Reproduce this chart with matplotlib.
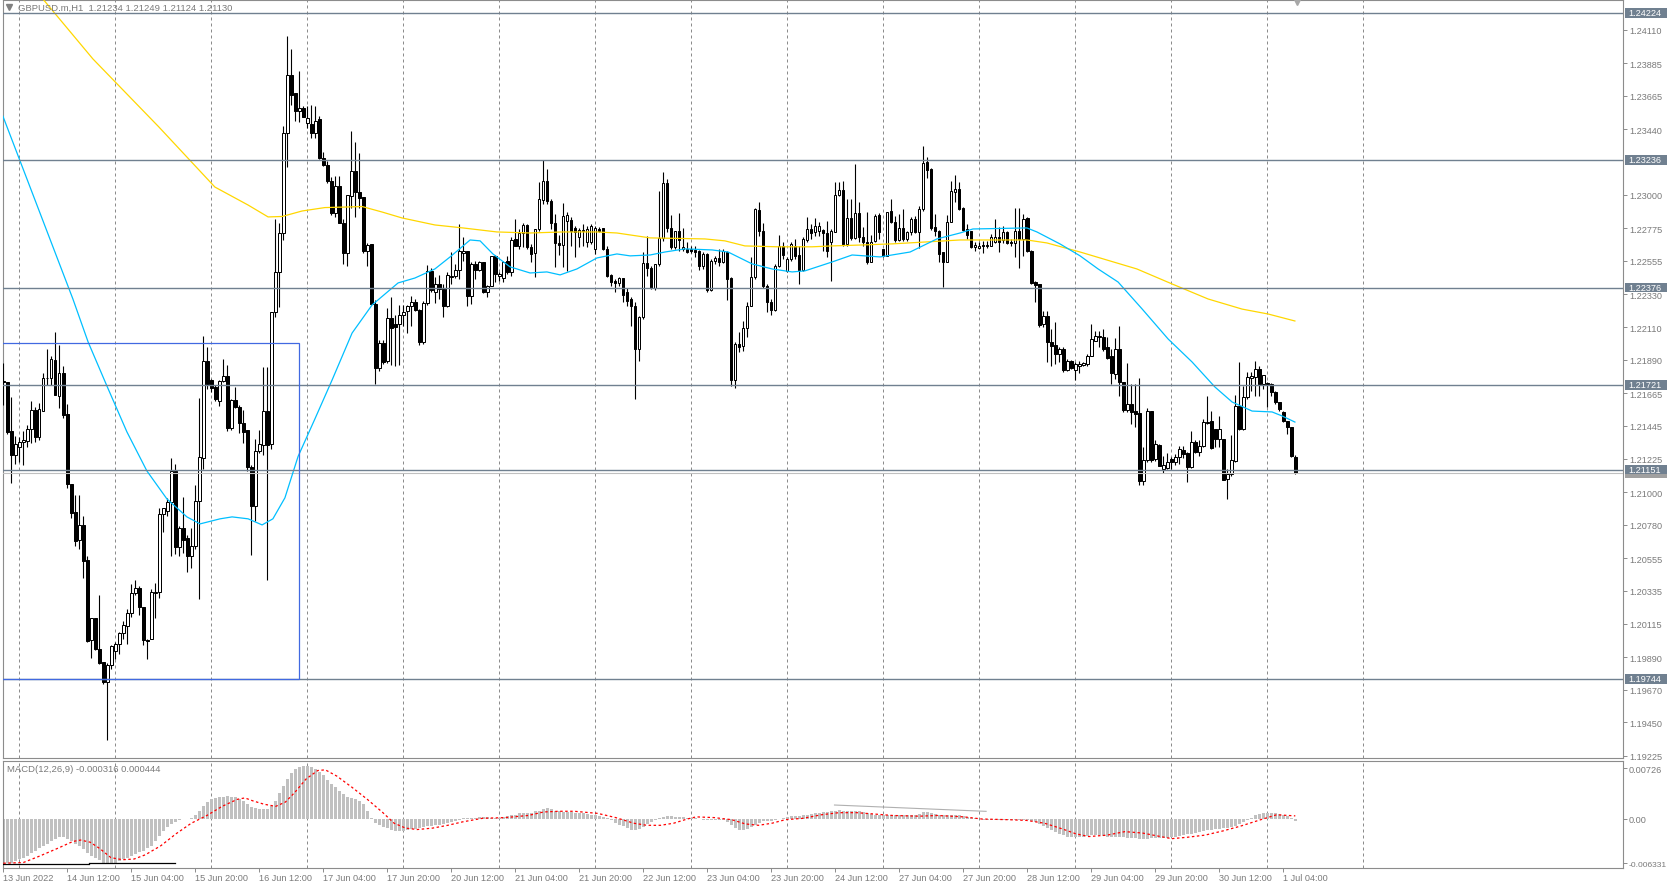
import numpy as np
import matplotlib
matplotlib.use("Agg")
import matplotlib.pyplot as plt
from matplotlib.patches import Rectangle
from matplotlib.lines import Line2D
from matplotlib.transforms import blended_transform_factory

# --- GBPUSD H1 candles (bar 0 = 13 Jun 20:00) ---
opens = [
    1.21750, 1.21738, 1.21408, 1.21251, 1.21305, 1.21335, 1.21346, 1.21422, 1.21552, 1.21368,
    1.21548, 1.21765, 1.21765, 1.21889, 1.21649, 1.21801, 1.21523, 1.21052, 1.20864, 1.20675,
    1.20776, 1.20540, 1.20006, 1.20152, 1.19944, 1.19854, 1.19719, 1.19838, 1.19930, 1.19975,
    1.20051, 1.20101, 1.20186, 1.20318, 1.20352, 1.20224, 1.20006, 1.20011, 1.20320, 1.20325,
    1.20850, 1.20875, 1.20935, 1.21141, 1.20630, 1.20760, 1.20688, 1.20567, 1.20640, 1.20940,
    1.21232, 1.21880, 1.21756, 1.21707, 1.21612, 1.21744, 1.21780, 1.21432, 1.21617, 1.21569,
    1.21463, 1.21420, 1.21167, 1.20903, 1.21275, 1.21319, 1.21545, 1.21323, 1.22213, 1.22482,
    1.22741, 1.23419, 1.23806, 1.23683, 1.23563, 1.23582, 1.23486, 1.23479, 1.23414, 1.23510,
    1.23246, 1.23198, 1.23090, 1.22878, 1.23060, 1.22813, 1.22609, 1.22989, 1.23157, 1.23022,
    1.22985, 1.22621, 1.22669, 1.22268, 1.21833, 1.22001, 1.21881, 1.22169, 1.22128, 1.22128,
    1.22188, 1.22217, 1.22249, 1.22280, 1.22225, 1.22008, 1.22273, 1.22490, 1.22348, 1.22400,
    1.22366, 1.22254, 1.22450, 1.22455, 1.22494, 1.22610, 1.22620, 1.22322, 1.22535, 1.22497,
    1.22546, 1.22344, 1.22389, 1.22586, 1.22452, 1.22438, 1.22557, 1.22479, 1.22703, 1.22658,
    1.22741, 1.22797, 1.22647, 1.22606, 1.22770, 1.22967, 1.23095, 1.22961, 1.22808, 1.22674,
    1.22662, 1.22826, 1.22831, 1.22774, 1.22714, 1.22759, 1.22681, 1.22681, 1.22636, 1.22770,
    1.22774, 1.22636, 1.22460, 1.22422, 1.22407, 1.22438, 1.22344, 1.22299, 1.22254, 1.21963,
    1.22176, 1.22541, 1.22505, 1.22370, 1.22535, 1.22707, 1.23077, 1.22775, 1.22647, 1.22754,
    1.22636, 1.22636, 1.22636, 1.22631, 1.22624, 1.22519, 1.22602, 1.22362, 1.22553, 1.22573,
    1.22551, 1.22618, 1.22438, 1.21756, 1.21996, 1.21985, 1.22102, 1.22254, 1.22445, 1.22900,
    1.22759, 1.22389, 1.22281, 1.22227, 1.22519, 1.22653, 1.22490, 1.22568, 1.22658, 1.22595,
    1.22497, 1.22699, 1.22770, 1.22748, 1.22759, 1.22763, 1.22743, 1.22681, 1.22752, 1.22999,
    1.23035, 1.22669, 1.22842, 1.22707, 1.22878, 1.22714, 1.22685, 1.22550, 1.22692, 1.22864,
    1.22636, 1.22590, 1.22893, 1.22819, 1.22698, 1.22775, 1.22703, 1.22748, 1.22837, 1.22752,
    1.22905, 1.23219, 1.23174, 1.22781, 1.22759, 1.22613, 1.22550, 1.22819, 1.23021, 1.23039,
    1.22911, 1.22770, 1.22759, 1.22647, 1.22643, 1.22662, 1.22662, 1.22658, 1.22680, 1.22714,
    1.22698, 1.22748, 1.22685, 1.22676, 1.22759, 1.22703, 1.22842, 1.22624, 1.22411, 1.22400,
    1.22130, 1.22183, 1.22007, 1.21989, 1.21929, 1.21963, 1.21824, 1.21884, 1.21824, 1.21845,
    1.21855, 1.21862, 1.21918, 1.22019, 1.22041, 1.22041, 1.21974, 1.21913, 1.21794, 1.21963,
    1.21740, 1.21550, 1.21593, 1.21548, 1.21530, 1.21077, 1.21218, 1.21545, 1.21222, 1.21317,
    1.21155, 1.21160, 1.21222, 1.21205, 1.21234, 1.21283, 1.21263, 1.21166, 1.21340, 1.21272,
    1.21308, 1.21465, 1.21476, 1.21424, 1.21357, 1.21357, 1.21088, 1.21122, 1.21211, 1.21581,
    1.21424, 1.21637, 1.21765, 1.21772, 1.21828, 1.21727, 1.21734, 1.21727, 1.21671, 1.21604,
    1.21541, 1.21480, 1.21436, 1.21234,
]
highs = [
    1.21868, 1.21740, 1.21637, 1.21380, 1.21370, 1.21413, 1.21450, 1.21610, 1.21570, 1.21600,
    1.21800, 1.21963, 1.21918, 1.22080, 1.21992, 1.21850, 1.21590, 1.21052, 1.20980, 1.20980,
    1.20840, 1.20570, 1.20152, 1.20152, 1.20310, 1.19854, 1.19850, 1.19970, 1.19990, 1.20060,
    1.20130, 1.20210, 1.20380, 1.20410, 1.20370, 1.20224, 1.20010, 1.20350, 1.20390, 1.20890,
    1.20890, 1.20960, 1.21227, 1.21190, 1.20770, 1.20970, 1.20710, 1.20760, 1.21050, 1.21630,
    1.22050, 1.21974, 1.21760, 1.21720, 1.21756, 1.21895, 1.21857, 1.21624, 1.21710, 1.21588,
    1.21552, 1.21420, 1.21179, 1.21359, 1.21420, 1.21840, 1.21840, 1.22213, 1.22837, 1.22813,
    1.23462, 1.24070, 1.23984, 1.23683, 1.23830, 1.23600, 1.23594, 1.23606, 1.23600, 1.23530,
    1.23290, 1.23227, 1.23119, 1.23126, 1.23126, 1.22837, 1.22998, 1.23426, 1.23354, 1.23282,
    1.22985, 1.22674, 1.22669, 1.22292, 1.22020, 1.22025, 1.22241, 1.22309, 1.22189, 1.22261,
    1.22261, 1.22261, 1.22321, 1.22297, 1.22232, 1.22285, 1.22530, 1.22506, 1.22445, 1.22460,
    1.22400, 1.22479, 1.22618, 1.22535, 1.22804, 1.22714, 1.22625, 1.22546, 1.22557, 1.22557,
    1.22550, 1.22393, 1.22590, 1.22595, 1.22479, 1.22557, 1.22590, 1.22714, 1.22837, 1.22770,
    1.22808, 1.22804, 1.22669, 1.22770, 1.23089, 1.23237, 1.23174, 1.22972, 1.22871, 1.22730,
    1.22945, 1.22882, 1.22849, 1.22788, 1.22774, 1.22804, 1.22792, 1.22804, 1.22788, 1.22781,
    1.22774, 1.22658, 1.22467, 1.22434, 1.22445, 1.22438, 1.22371, 1.22310, 1.22277, 1.22187,
    1.22613, 1.22725, 1.22523, 1.22535, 1.23028, 1.23150, 1.23107, 1.22864, 1.22759, 1.22878,
    1.22775, 1.22681, 1.22653, 1.22658, 1.22631, 1.22613, 1.22609, 1.22568, 1.22590, 1.22636,
    1.22636, 1.22624, 1.22445, 1.22007, 1.22075, 1.22153, 1.22277, 1.22579, 1.22910, 1.22950,
    1.22810, 1.22400, 1.22299, 1.22535, 1.22730, 1.22680, 1.22580, 1.22680, 1.22703, 1.22658,
    1.22714, 1.22849, 1.22804, 1.22842, 1.22815, 1.22770, 1.22826, 1.22770, 1.23084, 1.23084,
    1.23095, 1.22972, 1.22972, 1.23208, 1.22950, 1.22781, 1.22882, 1.22730, 1.22871, 1.22878,
    1.22636, 1.22887, 1.22972, 1.22855, 1.22871, 1.22905, 1.22759, 1.22849, 1.22855, 1.22923,
    1.23331, 1.23252, 1.23178, 1.22871, 1.22766, 1.22613, 1.22864, 1.23095, 1.23133, 1.23084,
    1.22916, 1.22804, 1.22759, 1.22685, 1.22680, 1.22692, 1.22692, 1.22737, 1.22837, 1.22780,
    1.22792, 1.22759, 1.22703, 1.22909, 1.22909, 1.22870, 1.22849, 1.22631, 1.22422, 1.22400,
    1.22221, 1.22221, 1.22097, 1.22142, 1.21974, 1.21974, 1.21895, 1.21889, 1.21873, 1.21880,
    1.21877, 1.21930, 1.22131, 1.22086, 1.22086, 1.22097, 1.22041, 1.21963, 1.22034, 1.22115,
    1.21740, 1.21866, 1.21727, 1.21727, 1.21765, 1.21301, 1.21563, 1.21545, 1.21353, 1.21323,
    1.21245, 1.21263, 1.21234, 1.21256, 1.21312, 1.21312, 1.21267, 1.21413, 1.21353, 1.21353,
    1.21492, 1.21649, 1.21548, 1.21424, 1.21514, 1.21357, 1.21155, 1.21384, 1.21653, 1.21873,
    1.21716, 1.21806, 1.21806, 1.21884, 1.21851, 1.21788, 1.21738, 1.21734, 1.21682, 1.21608,
    1.21548, 1.21480, 1.21440, 1.21249,
]
lows = [
    1.21586, 1.21390, 1.21063, 1.21190, 1.21200, 1.21184, 1.21300, 1.21330, 1.21340, 1.21352,
    1.21548, 1.21720, 1.21720, 1.21650, 1.21563, 1.21500, 1.21030, 1.20823, 1.20635, 1.20620,
    1.20420, 1.19990, 1.19885, 1.19940, 1.19843, 1.19710, 1.19334, 1.19810, 1.19880, 1.19910,
    1.20010, 1.19980, 1.20160, 1.20310, 1.20170, 1.19970, 1.19880, 1.20010, 1.20150, 1.20290,
    1.20730, 1.20840, 1.20570, 1.20580, 1.20570, 1.20590, 1.20459, 1.20490, 1.20620, 1.20280,
    1.21155, 1.21693, 1.21670, 1.21610, 1.21576, 1.21740, 1.21408, 1.21420, 1.21564, 1.21396,
    1.21331, 1.21143, 1.20579, 1.20807, 1.21263, 1.21251, 1.20410, 1.21287, 1.22177, 1.22242,
    1.22693, 1.23186, 1.23606, 1.23498, 1.23490, 1.23522, 1.23450, 1.23385, 1.23380, 1.23239,
    1.23193, 1.23078, 1.22861, 1.22850, 1.22813, 1.22537, 1.22520, 1.22909, 1.22849, 1.22909,
    1.22609, 1.22520, 1.22261, 1.21727, 1.21816, 1.21864, 1.21871, 1.21856, 1.21845, 1.21856,
    1.22116, 1.22068, 1.22116, 1.22217, 1.21990, 1.21996, 1.22261, 1.22345, 1.22272, 1.22299,
    1.22176, 1.22243, 1.22400, 1.22438, 1.22434, 1.22557, 1.22254, 1.22266, 1.22434, 1.22490,
    1.22340, 1.22310, 1.22384, 1.22410, 1.22422, 1.22410, 1.22467, 1.22456, 1.22653, 1.22636,
    1.22647, 1.22636, 1.22551, 1.22445, 1.22759, 1.22938, 1.22938, 1.22770, 1.22512, 1.22595,
    1.22512, 1.22490, 1.22653, 1.22579, 1.22647, 1.22658, 1.22647, 1.22670, 1.22602, 1.22748,
    1.22631, 1.22445, 1.22389, 1.22344, 1.22389, 1.22277, 1.22254, 1.22120, 1.21626, 1.21884,
    1.22165, 1.22456, 1.22366, 1.22362, 1.22523, 1.22692, 1.22748, 1.22636, 1.22636, 1.22624,
    1.22624, 1.22610, 1.22610, 1.22579, 1.22496, 1.22501, 1.22344, 1.22355, 1.22535, 1.22523,
    1.22540, 1.22295, 1.21716, 1.21698, 1.21940, 1.21951, 1.22041, 1.22250, 1.22434, 1.22725,
    1.22370, 1.22209, 1.22191, 1.22220, 1.22512, 1.22568, 1.22483, 1.22557, 1.22568, 1.22400,
    1.22490, 1.22681, 1.22703, 1.22725, 1.22725, 1.22624, 1.22579, 1.22422, 1.22748, 1.22994,
    1.22658, 1.22658, 1.22698, 1.22703, 1.22681, 1.22658, 1.22535, 1.22546, 1.22685, 1.22703,
    1.22580, 1.22586, 1.22810, 1.22680, 1.22690, 1.22690, 1.22690, 1.22730, 1.22743, 1.22640,
    1.22893, 1.23110, 1.22766, 1.22725, 1.22550, 1.22378, 1.22546, 1.22815, 1.22949, 1.22900,
    1.22759, 1.22703, 1.22640, 1.22624, 1.22636, 1.22609, 1.22640, 1.22653, 1.22676, 1.22613,
    1.22676, 1.22669, 1.22658, 1.22579, 1.22505, 1.22591, 1.22618, 1.22400, 1.22281, 1.22108,
    1.22108, 1.21873, 1.21851, 1.21862, 1.21873, 1.21806, 1.21817, 1.21828, 1.21756, 1.21800,
    1.21850, 1.21851, 1.21913, 1.22019, 1.21974, 1.21951, 1.21895, 1.21727, 1.21761, 1.21649,
    1.21541, 1.21541, 1.21458, 1.21436, 1.21048, 1.21048, 1.21200, 1.21205, 1.21211, 1.21173,
    1.21128, 1.21155, 1.21155, 1.21180, 1.21189, 1.21227, 1.21070, 1.21160, 1.21263, 1.21245,
    1.21301, 1.21458, 1.21290, 1.21301, 1.21301, 1.21083, 1.20953, 1.21110, 1.21205, 1.21420,
    1.21420, 1.21626, 1.21682, 1.21644, 1.21649, 1.21694, 1.21570, 1.21649, 1.21593, 1.21548,
    1.21474, 1.21390, 1.21234, 1.21124,
]
closes = [
    1.21740, 1.21406, 1.21251, 1.21321, 1.21337, 1.21348, 1.21422, 1.21552, 1.21368, 1.21559,
    1.21765, 1.21770, 1.21893, 1.21653, 1.21801, 1.21521, 1.21052, 1.20857, 1.20673, 1.20776,
    1.20538, 1.19995, 1.20152, 1.19944, 1.19850, 1.19719, 1.19838, 1.19966, 1.19975, 1.20049,
    1.20105, 1.20186, 1.20318, 1.20352, 1.20224, 1.20006, 1.20000, 1.20325, 1.20330, 1.20850,
    1.20890, 1.20935, 1.21141, 1.20630, 1.20760, 1.20679, 1.20567, 1.20635, 1.20942, 1.21234,
    1.21880, 1.21727, 1.21698, 1.21625, 1.21744, 1.21780, 1.21432, 1.21617, 1.21569, 1.21463,
    1.21403, 1.21167, 1.20903, 1.21275, 1.21323, 1.21545, 1.21319, 1.22213, 1.22482, 1.22741,
    1.23419, 1.23806, 1.23674, 1.23563, 1.23582, 1.23522, 1.23515, 1.23414, 1.23498, 1.23250,
    1.23198, 1.23090, 1.22878, 1.23060, 1.22813, 1.22609, 1.22998, 1.23157, 1.23022, 1.22981,
    1.22621, 1.22664, 1.22268, 1.21833, 1.22001, 1.21876, 1.22169, 1.22104, 1.22111, 1.22188,
    1.22212, 1.22253, 1.22280, 1.22225, 1.22008, 1.22273, 1.22490, 1.22357, 1.22400, 1.22366,
    1.22254, 1.22460, 1.22455, 1.22494, 1.22620, 1.22620, 1.22322, 1.22535, 1.22497, 1.22546,
    1.22344, 1.22384, 1.22586, 1.22467, 1.22467, 1.22546, 1.22479, 1.22696, 1.22658, 1.22741,
    1.22797, 1.22647, 1.22602, 1.22770, 1.22972, 1.23095, 1.22961, 1.22808, 1.22674, 1.22662,
    1.22860, 1.22864, 1.22759, 1.22748, 1.22763, 1.22763, 1.22770, 1.22792, 1.22777, 1.22759,
    1.22636, 1.22456, 1.22410, 1.22407, 1.22438, 1.22328, 1.22288, 1.22254, 1.21963, 1.22176,
    1.22541, 1.22505, 1.22370, 1.22535, 1.22707, 1.23077, 1.22775, 1.22647, 1.22754, 1.22696,
    1.22647, 1.22618, 1.22624, 1.22618, 1.22519, 1.22602, 1.22362, 1.22553, 1.22573, 1.22551,
    1.22624, 1.22434, 1.21756, 1.21996, 1.21974, 1.22102, 1.22254, 1.22445, 1.22905, 1.22759,
    1.22384, 1.22281, 1.22227, 1.22519, 1.22653, 1.22595, 1.22568, 1.22669, 1.22586, 1.22497,
    1.22703, 1.22770, 1.22743, 1.22792, 1.22788, 1.22743, 1.22624, 1.22759, 1.22999, 1.23035,
    1.22669, 1.22842, 1.22707, 1.22878, 1.22714, 1.22681, 1.22546, 1.22685, 1.22855, 1.22752,
    1.22586, 1.22882, 1.22819, 1.22698, 1.22775, 1.22703, 1.22748, 1.22837, 1.22752, 1.22905,
    1.23214, 1.23169, 1.22775, 1.22759, 1.22602, 1.22550, 1.22819, 1.23028, 1.23039, 1.22905,
    1.22763, 1.22730, 1.22647, 1.22662, 1.22658, 1.22658, 1.22658, 1.22714, 1.22714, 1.22680,
    1.22748, 1.22676, 1.22676, 1.22759, 1.22703, 1.22837, 1.22624, 1.22407, 1.22393, 1.22124,
    1.22183, 1.22007, 1.21985, 1.21929, 1.21963, 1.21824, 1.21884, 1.21833, 1.21862, 1.21862,
    1.21866, 1.21918, 1.22030, 1.22052, 1.22052, 1.21963, 1.21900, 1.21801, 1.21963, 1.21740,
    1.21550, 1.21593, 1.21541, 1.21525, 1.21077, 1.21218, 1.21545, 1.21218, 1.21323, 1.21178,
    1.21182, 1.21205, 1.21205, 1.21234, 1.21290, 1.21256, 1.21166, 1.21335, 1.21272, 1.21308,
    1.21469, 1.21469, 1.21297, 1.21357, 1.21424, 1.21083, 1.21122, 1.21218, 1.21581, 1.21424,
    1.21637, 1.21772, 1.21783, 1.21828, 1.21727, 1.21788, 1.21727, 1.21671, 1.21604, 1.21559,
    1.21480, 1.21436, 1.21241, 1.21130,
]

# moving averages (bar position, price)
slow_ma_x = [9.9, 22.4, 38.9, 52.9, 61.2, 66.2, 69.7, 74.7, 80.4, 86.2,
             89.7, 94.7, 99.7, 107.9, 114.9, 123.4, 131.7, 139.9, 148.4, 153.4,
             161.7, 175.4, 180.4, 185.4, 193.7, 202.2, 207.2, 215.4, 222.4, 230.9,
             239.2, 247.4, 255.9, 260.9, 269.2, 283.4, 292.2, 301.2, 309.7, 316.2, 322.9]
slow_ma_y = [1.24317, 1.23914, 1.23456, 1.23052, 1.22931, 1.22851, 1.22854, 1.22891, 1.22914, 1.22918,
             1.22921, 1.22884, 1.22844, 1.22797, 1.22777, 1.22750, 1.22743, 1.22750, 1.22750, 1.22743,
             1.22710, 1.22703, 1.22690, 1.22656, 1.22650, 1.22650, 1.22656, 1.22663, 1.22670, 1.22683,
             1.22696, 1.22696, 1.22696, 1.22676, 1.22615, 1.22501, 1.22400, 1.22299, 1.22231, 1.22198, 1.22151]
fast_ma_x = [-0.1, 17.4, 21.2, 25.9, 30.9, 35.9, 40.9, 45.9, 49.2, 54.2,
             57.2, 61.2, 64.7, 67.4, 70.4, 73.7, 77.9, 82.2, 87.2, 92.2,
             98.7, 102.9, 107.9, 111.7, 116.7, 119.2, 122.4, 126.7, 131.7, 135.9,
             139.2, 143.4, 148.4, 153.4, 156.7, 161.7, 165.4, 170.4, 177.2, 181.2,
             187.2, 192.2, 197.2, 200.4, 207.2, 212.2, 215.4, 219.2, 226.7, 233.4,
             239.2, 242.4, 255.9, 258.4, 264.2, 269.2, 273.7, 278.7, 284.7, 291.2,
             297.2, 302.9, 307.2, 312.2, 317.2, 319.7, 322.9]
fast_ma_y = [1.23529, 1.22299, 1.22010, 1.21714, 1.21405, 1.21142, 1.20954, 1.20833, 1.20786, 1.20820,
             1.20833, 1.20820, 1.20779, 1.20820, 1.20961, 1.21240, 1.21492, 1.21754, 1.22070, 1.22259,
             1.22407, 1.22440, 1.22501, 1.22582, 1.22696, 1.22690, 1.22602, 1.22515, 1.22474, 1.22481,
             1.22461, 1.22501, 1.22575, 1.22602, 1.22589, 1.22595, 1.22615, 1.22636, 1.22629, 1.22615,
             1.22535, 1.22501, 1.22481, 1.22488, 1.22548, 1.22595, 1.22589, 1.22582, 1.22615, 1.22703,
             1.22743, 1.22770, 1.22777, 1.22750, 1.22669, 1.22589, 1.22501, 1.22413, 1.22232, 1.22030,
             1.21875, 1.21707, 1.21606, 1.21545, 1.21539, 1.21512, 1.21471]

# MACD(12,26,9) main histogram, one value per bar
macd_main = [
    -0.0063, -0.0062, -0.0062, -0.0060, -0.0057, -0.0055, -0.0052, -0.0049, -0.0045, -0.0042, -0.0039, -0.0035, -0.0031, -0.0028, -0.0026, -0.0026,
    -0.0028, -0.0031, -0.0035, -0.0039, -0.0043, -0.0048, -0.0052, -0.0056, -0.0059, -0.0062, -0.0064, -0.0063, -0.0062, -0.0060, -0.0057, -0.0055,
    -0.0052, -0.0050, -0.0047, -0.0045, -0.0042, -0.0038, -0.0031, -0.0024, -0.0017, -0.0011, -0.0007, -0.0004, -0.0001, 0.0000, 0.0000, 0.0001,
    0.0005, 0.0011, 0.0018, 0.0024, 0.0028, 0.0030, 0.0031, 0.0032, 0.0033, 0.0032, 0.0031, 0.0029, 0.0026, 0.0022, 0.0017, 0.0015,
    0.0014, 0.0014, 0.0014, 0.0018, 0.0026, 0.0037, 0.0047, 0.0057, 0.0066, 0.0071, 0.0074, 0.0076, 0.0076, 0.0074, 0.0071, 0.0067,
    0.0062, 0.0056, 0.0050, 0.0045, 0.0040, 0.0035, 0.0031, 0.0030, 0.0028, 0.0025, 0.0021, 0.0012, 0.0002, -0.0006, -0.0009, -0.0011,
    -0.0013, -0.0015, -0.0017, -0.0017, -0.0017, -0.0016, -0.0014, -0.0014, -0.0013, -0.0012, -0.0010, -0.0010, -0.0009, -0.0008, -0.0007, -0.0006,
    -0.0004, -0.0003, -0.0001, 0.0001, 0.0002, 0.0002, 0.0002, 0.0003, 0.0003, 0.0003, 0.0002, 0.0002, 0.0002, 0.0003, 0.0004, 0.0005,
    0.0006, 0.0008, 0.0009, 0.0009, 0.0009, 0.0011, 0.0012, 0.0014, 0.0015, 0.0014, 0.0012, 0.0011, 0.0010, 0.0010, 0.0010, 0.0009,
    0.0009, 0.0008, 0.0007, 0.0006, 0.0005, 0.0004, 0.0003, 0.0001, -0.0002, -0.0005, -0.0008, -0.0010, -0.0013, -0.0015, -0.0016, -0.0014,
    -0.0011, -0.0007, -0.0004, -0.0001, 0.0001, 0.0003, 0.0004, 0.0004, 0.0003, 0.0003, 0.0003, 0.0002, 0.0002, 0.0001, 0.0000, -0.0001,
    -0.0002, -0.0002, -0.0002, -0.0001, -0.0002, -0.0004, -0.0009, -0.0013, -0.0015, -0.0015, -0.0014, -0.0012, -0.0008, -0.0005, -0.0003, -0.0003,
    -0.0003, -0.0002, 0.0000, 0.0002, 0.0003, 0.0004, 0.0004, 0.0004, 0.0005, 0.0006, 0.0007, 0.0008, 0.0009, 0.0010, 0.0010, 0.0011,
    0.0012, 0.0013, 0.0012, 0.0012, 0.0011, 0.0012, 0.0011, 0.0010, 0.0008, 0.0007, 0.0006, 0.0006, 0.0005, 0.0005, 0.0006, 0.0005,
    0.0005, 0.0005, 0.0005, 0.0005, 0.0005, 0.0007, 0.0010, 0.0010, 0.0009, 0.0007, 0.0005, 0.0005, 0.0005, 0.0006, 0.0006, 0.0005,
    0.0004, 0.0003, 0.0002, 0.0001, 0.0000, -0.0001, -0.0001, -0.0001, -0.0001, -0.0001, -0.0001, -0.0001, -0.0001, -0.0001, -0.0001, -0.0001,
    -0.0002, -0.0003, -0.0004, -0.0007, -0.0010, -0.0013, -0.0016, -0.0019, -0.0021, -0.0023, -0.0025, -0.0026, -0.0026, -0.0025, -0.0025, -0.0024,
    -0.0023, -0.0023, -0.0023, -0.0024, -0.0025, -0.0026, -0.0026, -0.0026, -0.0026, -0.0027, -0.0027, -0.0027, -0.0028, -0.0028, -0.0028, -0.0027,
    -0.0027, -0.0027, -0.0027, -0.0027, -0.0026, -0.0025, -0.0024, -0.0023, -0.0022, -0.0021, -0.0020, -0.0018, -0.0017, -0.0016, -0.0015, -0.0014,
    -0.0014, -0.0013, -0.0013, -0.0012, -0.0010, -0.0007, -0.0004, -0.0001, 0.0002, 0.0005, 0.0007, 0.0008, 0.0009, 0.0009, 0.0008, 0.0007,
    0.0006, 0.0004, 0.0001, -0.0003,
]
# signal line read at sample bars
signal_x = [0, 5, 9, 13.5, 17.4, 19.3, 21.7, 24.1, 26.9, 29.8,
            32.7, 35.5, 39.4, 43.2, 47, 50.9, 54.7, 58.5, 60.4, 62.3,
            65.2, 68.1, 70.5, 72.9, 75.7, 78.6, 80.5, 83.4, 87.2, 91,
            94.9, 97.7, 100.6, 103.5, 107.3, 111.1, 114.9, 119.8, 125.5, 131.2,
            135.1, 138.9, 142.7, 148.6, 153.1, 157.6, 160.9, 164.3, 167.6, 171,
            173.2, 177.7, 182.1, 185.5, 188.8, 192.2, 195.5, 200, 204.5, 208.9,
            213.4, 217.9, 222.3, 229, 233.5, 240.2, 244.6, 251.3, 255.8, 260.3,
            264.7, 268.1, 271.4, 275.9, 280.4, 284.8, 289.3, 292.1, 296, 300.4,
            304.9, 309.4, 313.8, 318.3, 323]
signal_y = [-0.0063, -0.0062, -0.0053, -0.0042, -0.0032, -0.0030, -0.0033, -0.0042, -0.0055, -0.0058,
            -0.0057, -0.0051, -0.0038, -0.0021, -0.0006, 0.0005, 0.0018, 0.0028, 0.0030, 0.0026,
            0.0021, 0.0018, 0.0024, 0.0038, 0.0057, 0.0069, 0.0070, 0.0061, 0.0045, 0.0028,
            0.0009, -0.0006, -0.0013, -0.0015, -0.0013, -0.0009, -0.0004, 0.0001, 0.0002, 0.0005,
            0.0010, 0.0011, 0.0011, 0.0008, 0.0002, -0.0006, -0.0009, -0.0009, -0.0006, 0.0000,
            0.0003, 0.0002, -0.0001, -0.0007, -0.0009, -0.0006, -0.0001, 0.0001, 0.0006, 0.0009,
            0.0009, 0.0007, 0.0005, 0.0004, 0.0005, 0.0003, 0.0000, -0.0001, -0.0002, -0.0006,
            -0.0014, -0.0021, -0.0025, -0.0023, -0.0018, -0.0020, -0.0025, -0.0028, -0.0026, -0.0023,
            -0.0017, -0.0010, -0.0002, 0.0006, 0.000444]

# horizontal levels and price axis
levels = [1.24224, 1.23236, 1.22376, 1.21721, 1.21151, 1.19744]
bid_price = 1.21130
box_top, box_bottom, box_right = 1.22000, 1.19744, 73.9
price_ticks = [1.24110, 1.23885, 1.23665, 1.23440, 1.23000, 1.22775, 1.22555,
               1.22330, 1.22110, 1.21890, 1.21665, 1.21445, 1.21225, 1.21000, 1.20780,
               1.20555, 1.20335, 1.20115, 1.19890, 1.19670, 1.19450, 1.19225]
macd_ticks = [0.00726, 0.0, -0.006331]
macd_tick_labels = ["0.00726", "0.00", "-0.006331"]
date_pos = [0] + [16 + 16 * k for k in range(20)]
date_labels = ["13 Jun 2022", "14 Jun 12:00", "15 Jun 04:00", "15 Jun 20:00", "16 Jun 12:00",
               "17 Jun 04:00", "17 Jun 20:00", "20 Jun 12:00", "21 Jun 04:00", "21 Jun 20:00",
               "22 Jun 12:00", "23 Jun 04:00", "23 Jun 20:00", "24 Jun 12:00", "27 Jun 04:00",
               "27 Jun 20:00", "28 Jun 12:00", "29 Jun 04:00", "29 Jun 20:00", "30 Jun 12:00",
               "1 Jul 04:00"]
day_lines = [4 + 24 * k for k in range(15)]

W, H = 1667, 887
GRAY = "#7a7a7a"
SLATE = "#708090"
plt.rcParams['font.family'] = ['Liberation Sans', 'DejaVu Sans']

def fx(px):
    return px / W

def fy(py):
    return 1 - py / H

fig = plt.figure(figsize=(W / 100, H / 100), dpi=100)
ax = fig.add_axes([fx(2.5), fy(759.3), fx(1623.3) - fx(2.5), fy(0.5) - fy(759.3)])
axm = fig.add_axes([fx(2.5), fy(869.3), fx(1623.3) - fx(2.5), fy(761.7) - fy(869.3)], sharex=ax)

for a in (ax, axm):
    for s in a.spines.values():
        s.set_color("#8c8c8c")
        s.set_linewidth(0.8)
    for d in day_lines:
        a.axvline(d, color="#8c8c8c", lw=0.72, ls=(0, (3, 3)), zorder=1)

# candles
o = np.array(opens); h = np.array(highs); l = np.array(lows); c = np.array(closes)
idx = np.arange(len(o))
ax.vlines(idx, l, h, color="black", lw=0.8, zorder=3)
fill = np.where(c >= o, "white", "black")
ax.bar(idx, np.abs(c - o), bottom=np.minimum(o, c), width=0.6, color=fill,
       edgecolor="black", linewidth=0.72, zorder=4)

ax.plot(slow_ma_x, slow_ma_y, color="#FFD700", lw=0.9, zorder=5)
ax.plot(fast_ma_x, fast_ma_y, color="#00BFFF", lw=0.9, zorder=5)

for lv in levels:
    ax.axhline(lv, color=SLATE, lw=1.0, zorder=5)
ax.axhline(bid_price, color="#c0c0c0", lw=0.8, zorder=4.5)
ax.add_patch(Rectangle((-5, box_bottom), box_right + 5, box_top - box_bottom,
                       fill=False, edgecolor="#4169E1", lw=0.9, zorder=6))

ax.set_xlim(-0.2, 405.0)
ax.set_ylim(1.192089, 1.243138)
ax.yaxis.tick_right()
ax.set_yticks(price_ticks)
ax.set_yticklabels(["%.5f" % t for t in price_ticks])
ax.tick_params(axis="y", length=3, width=0.7, color="#8c8c8c", labelsize=6.6,
               labelcolor=GRAY, pad=1.5)
ax.tick_params(axis="x", bottom=False, labelbottom=False)

# highlighted price boxes on the right
trans = blended_transform_factory(fig.transFigure, ax.transData)
half = 4.8 / 14864
ax.add_patch(Rectangle((fx(1624.5), bid_price - half), fx(42.5), 2 * half, transform=trans,
                       facecolor="#a0a0a0", edgecolor="none", clip_on=False, zorder=10))
for lv in levels:
    ax.add_patch(Rectangle((fx(1624.5), lv - half), fx(42.5), 2 * half, transform=trans,
                           facecolor=SLATE, edgecolor="none", clip_on=False, zorder=11))
    ax.text(fx(1628.5), lv, "%.5f" % lv, transform=trans, ha="left", va="center",
            fontsize=6.6, color="white", clip_on=False, zorder=12)

# shift marker
ax.plot([323.5], [0.997], marker="v", ms=5, color="#a8a8a8",
        transform=blended_transform_factory(ax.transData, ax.transAxes), clip_on=False, zorder=7)

# MACD panel
axm.bar(idx, macd_main, width=0.65, color="#c0c0c0", linewidth=0, zorder=2)
axm.plot(signal_x, signal_y, color="red", lw=0.9, ls=(0, (2, 2)), zorder=3)
axm.plot([0, 21.4], [-0.00645, -0.00645], color="black", lw=0.9, zorder=4)
axm.plot([21.4, 43], [-0.00631, -0.00631], color="black", lw=0.9, zorder=4)
axm.plot([207.8, 245.7], [0.00199, 0.00109], color="#b0b0b0", lw=0.8, zorder=4)
axm.set_ylim(-0.00702, 0.0083)
axm.yaxis.tick_right()
axm.set_yticks(macd_ticks)
axm.set_yticklabels(macd_tick_labels)
axm.tick_params(axis="y", length=3, width=0.7, color="#8c8c8c", labelsize=6.6,
                labelcolor=GRAY, pad=1.0)
axm.get_yticklabels()[-1].set_fontsize(6.1)
axm.set_xticks(date_pos)
axm.set_xticklabels(date_labels, ha="left")
axm.tick_params(axis="x", length=3, width=0.7, color="#8c8c8c", labelsize=6.6,
                labelcolor=GRAY, pad=0.5)
axm.set_xlim(-0.2, 405.0)

fig.text(fx(18), fy(8), "GBPUSD.m,H1  1.21234 1.21249 1.21124 1.21130",
         fontsize=6.8, color=GRAY, va="center", ha="left")
fig.add_artist(Line2D([fx(9)], [fy(7.5)], marker="v", ms=4, color="#808080", lw=0))
fig.text(fx(7), fy(770), "MACD(12,26,9) -0.000316 0.000444",
         fontsize=6.8, color=GRAY, va="center", ha="left")

fig.savefig("out.png", dpi=100)
